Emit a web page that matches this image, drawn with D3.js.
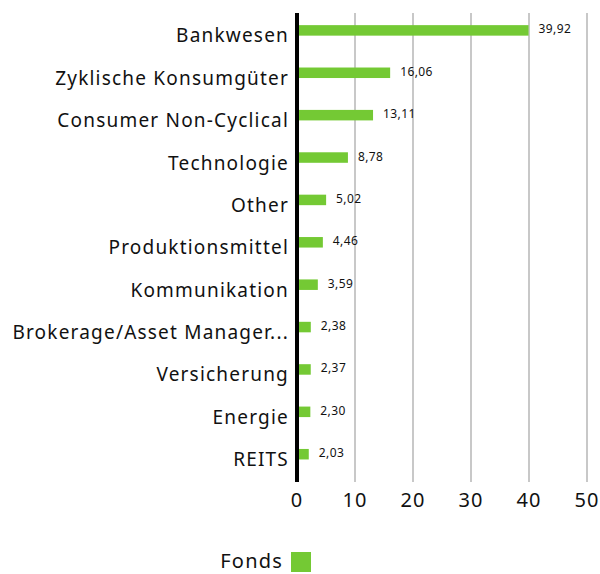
<!DOCTYPE html>
<html lang="de">
<head>
<meta charset="UTF-8">
<title>Sektoren</title>
<script src="https://d3js.org/d3.v7.min.js"></script>
<style>
  body { margin: 0; background: #fff; }
  text { font-family: "Noto Sans", sans-serif; fill: #111; }
</style>
</head>
<body>
<svg id="chart" width="600" height="574"></svg>
<script>
const sectors = ["Bankwesen", "Zyklische Konsumgüter", "Consumer Non-Cyclical", "Technologie", "Other",
  "Produktionsmittel", "Kommunikation", "Brokerage/Asset Manager...", "Versicherung", "Energie", "REITS"];
const fondsValues = [39.92, 16.06, 13.11, 8.78, 5.02, 4.46, 3.59, 2.38, 2.37, 2.30, 2.03];
const xTicks = [0, 10, 20, 30, 40, 50];
const seriesName = "Fonds";

const green = "#74c934";
const svg = d3.select("#chart");
const plotLeft = 297, plotTop = 13, plotBottom = 482;

const x = d3.scaleLinear().domain([0, 50]).range([plotLeft, 587]);
const y = d3.scaleBand().domain(sectors).range([9.2, 475.4]).paddingInner(0.752).paddingOuter(0.376);

// gridlines
svg.append("g").selectAll("line").data(xTicks.slice(1)).join("line")
  .attr("x1", d => x(d)).attr("x2", d => x(d))
  .attr("y1", plotTop).attr("y2", plotBottom)
  .attr("stroke", "#c8c8c8").attr("stroke-width", 2);

// bars
svg.append("g").selectAll("rect").data(fondsValues).join("rect")
  .attr("x", x(0))
  .attr("y", (d, i) => y(sectors[i]))
  .attr("width", d => x(d) - x(0))
  .attr("height", y.bandwidth())
  .attr("fill", green);

// value labels
const fmt = d => d.toFixed(2).replace(".", ",");
svg.append("g").selectAll("text").data(fondsValues).join("text")
  .attr("x", d => x(d) + 10)
  .attr("y", (d, i) => y(sectors[i]) + y.bandwidth() / 2 + 3)
  .attr("font-size", 12)
  .attr("letter-spacing", 0.4)
  .text(fmt);

// category labels
svg.append("g").selectAll("text").data(sectors).join("text")
  .attr("x", 289)
  .attr("y", d => y(d) + y.bandwidth() / 2 + 12)
  .attr("text-anchor", "end")
  .attr("font-size", 19)
  .attr("letter-spacing", 1.2)
  .text(d => d);

// y axis line
svg.append("line")
  .attr("x1", plotLeft).attr("x2", plotLeft)
  .attr("y1", plotTop).attr("y2", plotBottom)
  .attr("stroke", "#000").attr("stroke-width", 4);

// x tick labels
svg.append("g").selectAll("text").data(xTicks).join("text")
  .attr("x", d => x(d))
  .attr("y", 507)
  .attr("text-anchor", "middle")
  .attr("font-size", 20)
  .attr("letter-spacing", 1)
  .text(d => d);

// legend
svg.append("text")
  .attr("x", 283).attr("y", 568)
  .attr("text-anchor", "end")
  .attr("font-size", 20)
  .attr("letter-spacing", 1.2)
  .text(seriesName);
svg.append("rect")
  .attr("x", 291).attr("y", 552)
  .attr("width", 20).attr("height", 20)
  .attr("fill", green);
</script>
</body>
</html>
